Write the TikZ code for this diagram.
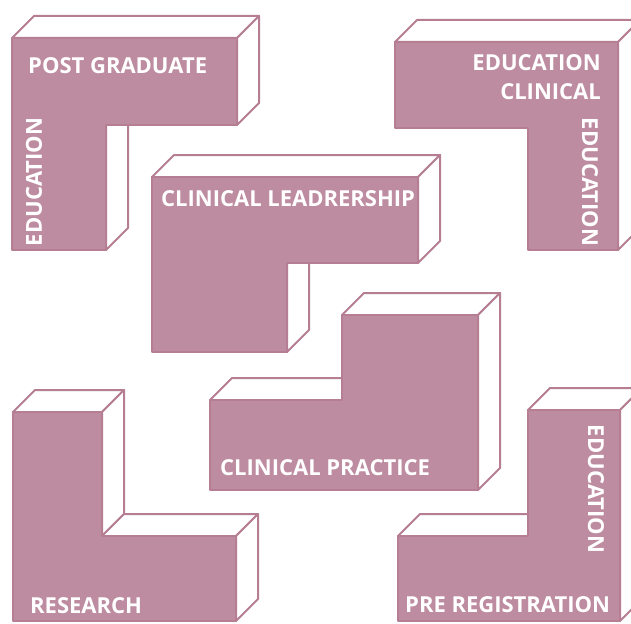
\documentclass[tikz,border=0pt]{standalone}
\usepackage{fontspec}
\setmainfont{Open Sans}
\usetikzlibrary{positioning}
\definecolor{blkPink}{RGB}{190,140,160}
\definecolor{blkEdge}{RGB}{182,126,147}
\tikzset{
    front/.style={fill=blkPink, draw=blkEdge, line width=2pt, line join=round},
    side/.style={fill=white, draw=blkEdge, line width=2pt, line join=round},
    caption/.style={text=white, font=\bfseries\fontsize{22}{24}\selectfont, inner sep=0pt}
}
\newcommand{\blkdepth}{22}
% white face swept back from one front edge
\newcommand{\sideface}[2]{\filldraw[side] (#1) -- (#2) -- ([shift={(\blkdepth,-\blkdepth)}]#2) -- ([shift={(\blkdepth,-\blkdepth)}]#1) -- cycle;}

\begin{document}
\begin{tikzpicture}[x=1pt, y=-1pt]
  \useasboundingbox (0,0) rectangle (631,623);
  \clip (0,0) rectangle (631,623);

  % Post graduate block
  \sideface{12,38}{237,38}
  \sideface{237,38}{237,125}
  \sideface{106,125}{106,250}
  \draw[front] (12,38) -- (237,38) -- (237,125) -- (106,125) -- (106,250) -- (12,250) -- cycle;
  \node[caption, anchor=west] (pg) at (28,66) {POST GRADUATE};
  \node[caption, rotate=90] (pgedu) at (34,182) {EDUCATION};

  % Clinical education block
  \sideface{395,42}{618,42}
  \sideface{618,42}{618,250}
  \draw[front] (395,42) -- (618,42) -- (618,250) -- (528,250) -- (528,128) -- (395,128) -- cycle;
  \node[caption, anchor=east] (ce) at (601,63) {EDUCATION};
  \node[caption, anchor=east] (cl) at (601,92) {CLINICAL};
  \node[caption, rotate=-90] (ceedu) at (590,182) {EDUCATION};

  % Clinical leadership block
  \sideface{152,177}{418,177}
  \sideface{418,177}{418,263}
  \sideface{287,263}{287,352}
  \draw[front] (152,177) -- (418,177) -- (418,263) -- (287,263) -- (287,352) -- (152,352) -- cycle;
  \node[caption, anchor=west] (lead) at (161,199) {CLINICAL LEADRERSHIP};

  % Clinical practice block
  \sideface{210,400}{342,400}
  \sideface{342,315}{478,315}
  \sideface{478,315}{478,490}
  \draw[front] (210,400) -- (342,400) -- (342,315) -- (478,315) -- (478,490) -- (210,490) -- cycle;
  \node[caption, anchor=west] (prac) at (220,468) {CLINICAL PRACTICE};

  % Research block
  \sideface{13,412}{102,412}
  \sideface{102,412}{102,536}
  \sideface{102,536}{236,536}
  \sideface{236,536}{236,621}
  \draw[front] (13,412) -- (102,412) -- (102,536) -- (236,536) -- (236,621) -- (13,621) -- cycle;
  \node[caption, anchor=west] (res) at (30,606) {RESEARCH};

  % Pre registration block
  \sideface{398,536}{528,536}
  \sideface{528,410}{620,410}
  \sideface{620,410}{620,621}
  \draw[front] (398,536) -- (528,536) -- (528,410) -- (620,410) -- (620,621) -- (398,621) -- cycle;
  \node[caption, anchor=west] (prereg) at (405,605) {PRE REGISTRATION};
  \node[caption, rotate=-90] (preedu) at (596,489) {EDUCATION};
\end{tikzpicture}
\end{document}
